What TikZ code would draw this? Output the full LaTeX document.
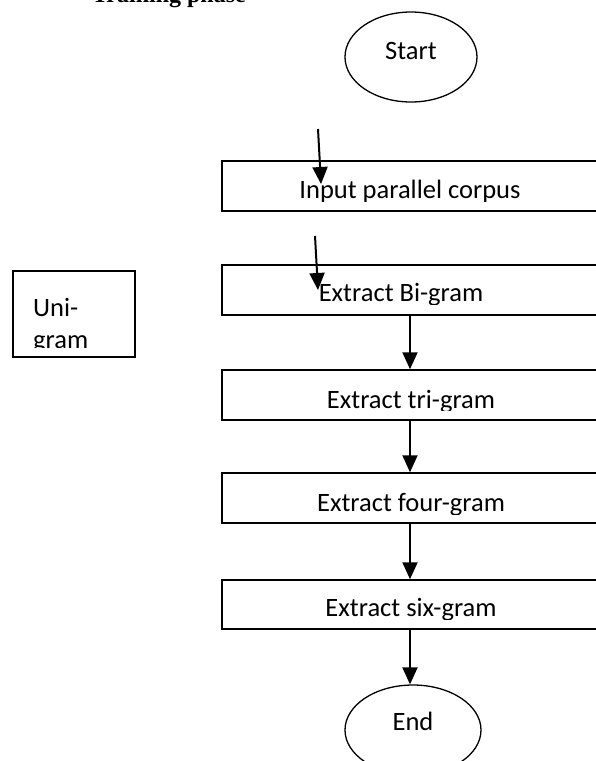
\documentclass[tikz,border=0pt]{standalone}
\usepackage{fontspec}
\setmainfont{Carlito}
\newfontfamily\headfont{Liberation Serif}
\usetikzlibrary{arrows.meta,shapes.geometric}

\tikzset{
  gbox/.style={draw, line width=1.5pt, rectangle, inner sep=0pt},
  term/.style={draw, line width=1.3pt, ellipse, inner sep=0pt,
               minimum width=132pt, minimum height=90pt},
  flow/.style={line width=2pt, -{Triangle[width=15pt,length=17pt]}},
  lbl/.style={inner sep=0pt, anchor=base, font=\fontsize{26.5}{31}\selectfont},
}

\begin{document}
\begin{tikzpicture}[x=1pt,y=-1pt]
\useasboundingbox (0,0) rectangle (595,761);

% section heading, mostly above the page edge
\node[inner sep=0pt, anchor=base east, font=\headfont\bfseries\fontsize{24}{28}\selectfont]
  (head) at (246,2) {Training phase};

% terminals
\node[term] (start) at (411,57) {};
\node[lbl] (starttxt) at (411,59) {Start};
\node[term, minimum width=136pt] (end) at (413,730) {};
\node[lbl] (endtxt) at (413,730) {End};

% process boxes
\node[gbox, minimum width=376pt, minimum height=50pt] (inp)  at (410,186) {};
\node[gbox, minimum width=376pt, minimum height=50pt] (bi)   at (410,290) {};
\node[gbox, minimum width=376pt, minimum height=50pt] (tri)  at (410,395) {};
\node[gbox, minimum width=376pt, minimum height=50pt] (four) at (410,498) {};
\node[gbox, minimum width=376pt, minimum height=49pt] (six)  at (410,604.5) {};
\node[gbox, minimum width=122pt, minimum height=86pt] (uni)  at (74,314) {};

% box texts, cut off near the lower border
\begin{scope}
  \clip (inp.north west) rectangle ([yshift=10pt]inp.south east);
  \node[lbl] (inptxt) at (410,198) {Input parallel corpus};
\end{scope}
\begin{scope}
  \clip (bi.north west) rectangle ([yshift=11pt]bi.south east);
  \node[lbl] (bitxt) at (401,301) {Extract Bi-gram};
\end{scope}
\begin{scope}
  \clip (tri.north west) rectangle ([yshift=10pt]tri.south east);
  \node[lbl] (tritxt) at (411,408) {Extract tri-gram};
\end{scope}
\begin{scope}
  \clip (four.north west) rectangle ([yshift=9pt]four.south east);
  \node[lbl] (fourtxt) at (411,511) {Extract four-gram};
\end{scope}
\begin{scope}
  \clip (six.north west) rectangle ([yshift=10pt]six.south east);
  \node[lbl] (sixtxt) at (411,616) {Extract six-gram};
\end{scope}
\begin{scope}
  \clip (uni.north west) rectangle ([yshift=10pt]uni.south east);
  \node[lbl, anchor=base west] (unitxt1) at (33,316) {Uni-};
  \node[lbl, anchor=base west] (unitxt2) at (33,348) {gram};
\end{scope}

% free-standing arrows entering the upper boxes
\coordinate (a1s) at (318,129);
\coordinate (a1e) at (321,184);
\coordinate (a2s) at (315,236);
\coordinate (a2e) at (318,290);
\draw[flow] (a1s) -- (a1e);
\draw[flow] (a2s) -- (a2e);

% main flow
\draw[flow] (bi.south) -- (tri.north);
\draw[flow] (tri.south) -- (four.north);
\draw[flow] (four.south) -- (six.north);
\draw[flow] (six.south) -- (six.south |- end.north);
\end{tikzpicture}
\end{document}
